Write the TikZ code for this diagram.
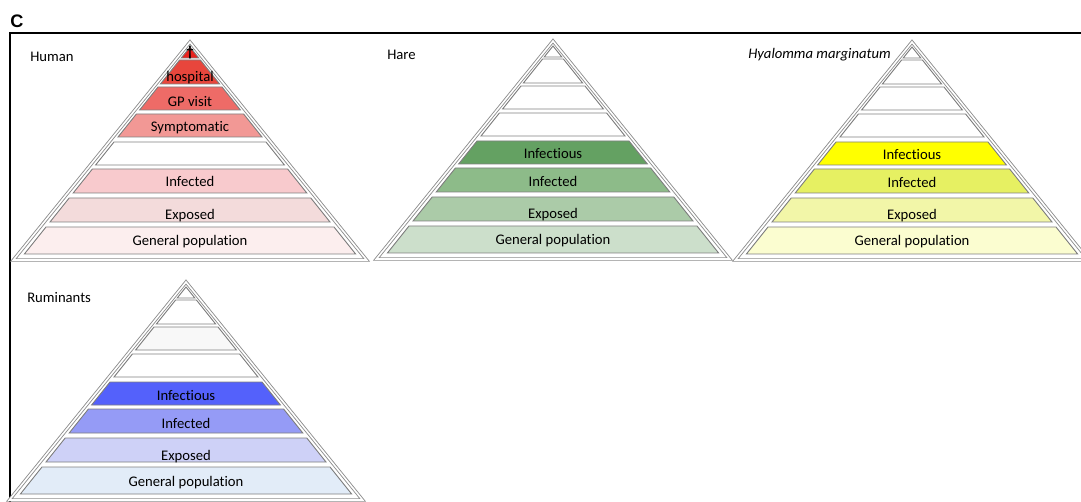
\documentclass[tikz,border=0pt]{standalone}
\usepackage{fontspec}
\setmainfont{Carlito}[Ligatures={NoCommon}]
\newfontfamily\panelfont{Liberation Sans}
\usepackage{tikz}

\definecolor{human1}{HTML}{E8231E}
\definecolor{human2}{HTML}{E8463C}
\definecolor{human3}{HTML}{EE6B67}
\definecolor{human4}{HTML}{F29895}
\definecolor{human5}{HTML}{FFFFFF}
\definecolor{human6}{HTML}{F8CACD}
\definecolor{human7}{HTML}{F3DBDB}
\definecolor{human8}{HTML}{FCEEEE}
\definecolor{hare1}{HTML}{FFFFFF}
\definecolor{hare2}{HTML}{FFFFFF}
\definecolor{hare3}{HTML}{FFFFFF}
\definecolor{hare4}{HTML}{FFFFFF}
\definecolor{hare5}{HTML}{64A162}
\definecolor{hare6}{HTML}{8DBB89}
\definecolor{hare7}{HTML}{ABCBA8}
\definecolor{hare8}{HTML}{CCDFCB}
\definecolor{hyal1}{HTML}{FFFFFF}
\definecolor{hyal2}{HTML}{FFFFFF}
\definecolor{hyal3}{HTML}{FFFFFF}
\definecolor{hyal4}{HTML}{FFFFFF}
\definecolor{hyal5}{HTML}{FFFF00}
\definecolor{hyal6}{HTML}{E6F062}
\definecolor{hyal7}{HTML}{F2F6A8}
\definecolor{hyal8}{HTML}{FBFDD0}
\definecolor{rum1}{HTML}{FFFFFF}
\definecolor{rum2}{HTML}{FFFFFF}
\definecolor{rum3}{HTML}{F8F8F8}
\definecolor{rum4}{HTML}{FFFFFF}
\definecolor{rum5}{HTML}{5461FB}
\definecolor{rum6}{HTML}{959BF6}
\definecolor{rum7}{HTML}{CED1F7}
\definecolor{rum8}{HTML}{E2ECF8}

\tikzset{
    band/.style={draw=gray,line width=0.7pt},
    outline/.style={draw=gray!90,line width=0.65pt,double=white,double distance=1.2pt},
    bandtext/.style={anchor=base,inner sep=0pt,font=\fontsize{11}{13}\selectfont},
    species/.style={anchor=base west,inner sep=0pt,font=\fontsize{11}{13}\selectfont}
}

\begin{document}
\begin{tikzpicture}[x=0.75pt,y=-0.75pt]
    \useasboundingbox (0,0) rectangle (1081,502);
    \fill[white] (0,0) rectangle (1081,502);
    \node[anchor=base west,inner sep=0pt,font=\panelfont\bfseries\fontsize{13.6}{14}\selectfont] (panel) at (10,28) {C};
    \draw[line width=1.2pt] (10,502) -- (10,33) -- (1081,33);
    \begin{scope}[shift={(190,42)}]
        \draw[outline] (0,0) -- (176.6,218) -- (-176.6,218) -- cycle;
        \foreach \t/\b/\ty/\l [count=\i] in {5/16/15/{\textbf{\dag}},18/42/40/hospital,45/68/65/GP visit,72/95/90/Symptomatic,100/123/118/{},127/151/145/Infected,156/180/178/Exposed,185/212/204/General population}{
            \filldraw[band,fill=human\i] ({-0.8*(\t-5)},\t) -- ({0.8*(\t-5)},\t) -- ({0.8*(\b-5)},\b) -- ({-0.8*(\b-5)},\b) -- cycle;
            \node[bandtext] (human\i) at (0,\ty) {\l};
        }
        \node[species] (humanname) at (-160,20) {Human};
    \end{scope}
    \foreach \p/\ax/\ay/\name/\lx/\ly in {hare/553/41/Hare/-166/19,hyal/912/42/{\itshape Hyalomma marginatum}/-164/17,rum/186/282/Ruminants/-159/20}{
        \begin{scope}[shift={(\ax,\ay)}]
            \draw[outline] (0,0) -- (176.6,218) -- (-176.6,218) -- cycle;
            \foreach \t/\b/\ty/\l [count=\i] in {5/16/15/{},18/42/40/{},45/68/65/{},72/95/90/{},100/123/118/Infectious,127/151/146/Infected,156/180/178/Exposed,185/212/204/General population}{
                \filldraw[band,fill=\p\i] ({-0.8*(\t-5)},\t) -- ({0.8*(\t-5)},\t) -- ({0.8*(\b-5)},\b) -- ({-0.8*(\b-5)},\b) -- cycle;
                \node[bandtext] (\p\i) at (0,\ty) {\l};
            }
            \node[species] (\p name) at (\lx,\ly) {\name};
        \end{scope}
    }
\end{tikzpicture}
\end{document}
